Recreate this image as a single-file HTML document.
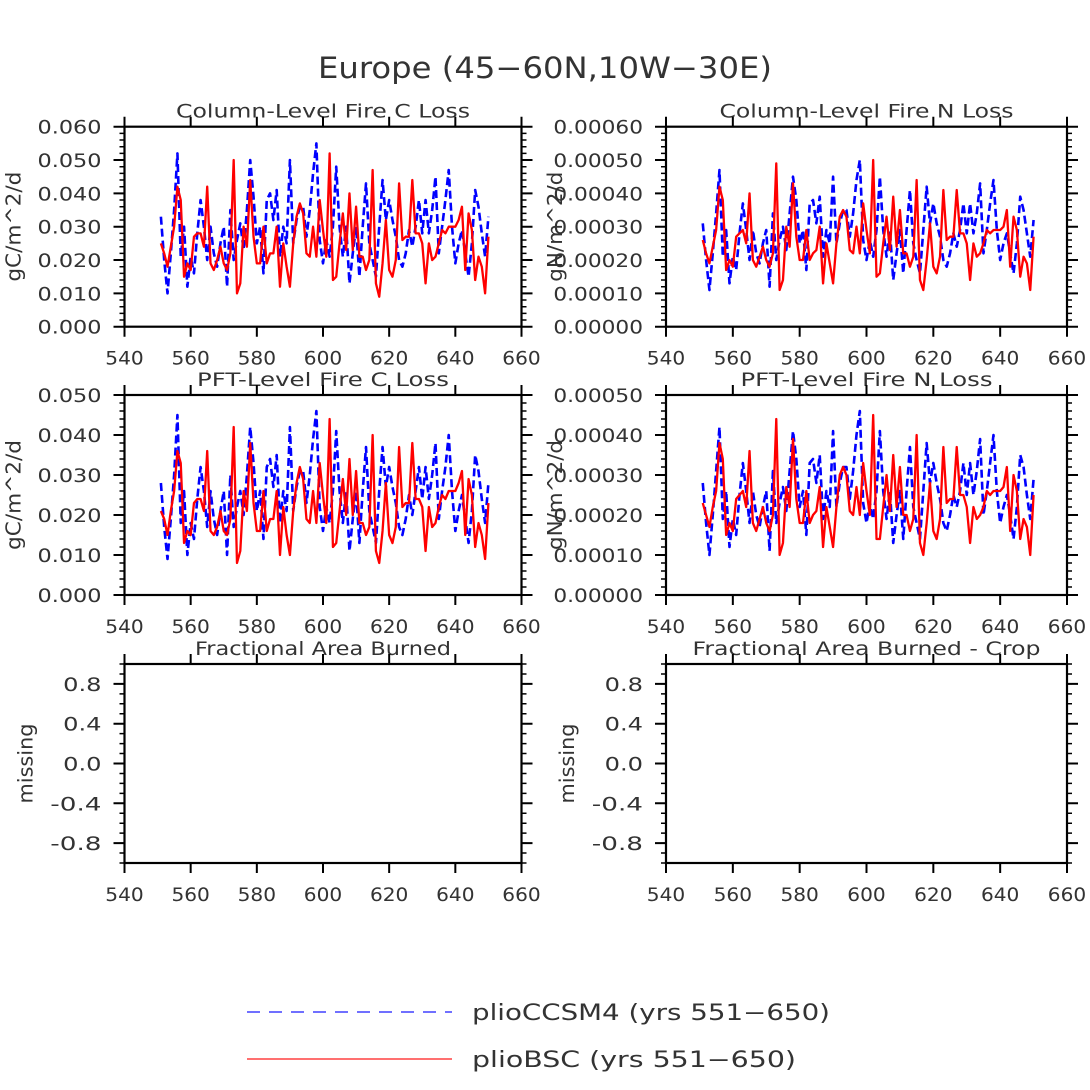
<!DOCTYPE html>
<html><head><meta charset="utf-8">
<style>
html,body{margin:0;padding:0;background:#fff;}
svg{display:block;font-family:"DejaVu Sans","Liberation Sans",sans-serif;}
</style></head>
<body>
<svg id="fig" width="1090" height="1090" viewBox="0 0 1090 1090" xmlns="http://www.w3.org/2000/svg">
<rect width="1090" height="1090" fill="#fff"/>
<text x="545" y="78" font-size="29" text-anchor="middle" textLength="454" lengthAdjust="spacingAndGlyphs" fill="#333">Europe (45−60N,10W−30E)</text>
<g id="panels"></g>
<g>
  <line x1="247" y1="1012" x2="452" y2="1012" stroke="#7070ff" stroke-width="2" stroke-dasharray="13,9"/>
  <text x="472" y="1020" font-size="22" textLength="358" lengthAdjust="spacingAndGlyphs" fill="#333">plioCCSM4 (yrs 551−650)</text>
  <line x1="247" y1="1059" x2="452" y2="1059" stroke="#ff7070" stroke-width="2"/>
  <text x="472" y="1067" font-size="22" textLength="324" lengthAdjust="spacingAndGlyphs" fill="#333">plioBSC (yrs 551−650)</text>
</g>
</svg>
<script>
// ---- data (years 551..650) ----
const firstYear = 551;
const xTicks = [540, 560, 580, 600, 620, 640, 660];
// Column-level fire C loss (x1e-3 gC/m^2/d)
const colC_red = [25,22,18,24,30,42,38,15,19,17, 27,28,28,24,42,19,17,20,24,19, 17,22,50,10,13,30,24,44,27,19, 19,30,19,22,22,30,12,25,18,12, 25,33,37,34,22,21,30,21,38,29, 21,52,14,15,25,34,23,40,23,36, 21,21,17,20,47,13,9,19,32,17, 15,20,43,26,27,27,44,28,28,25, 13,25,20,21,25,29,28,30,30,30, 32,36,17,34,29,14,21,18,10,27];
const colC_blue = [33,20,10,22,35,52,21,30,12,21, 16,28,38,30,20,30,22,18,25,30, 12,35,20,26,31,23,35,50,39,25, 30,16,38,40,32,41,21,30,25,50, 25,32,36,36,27,35,46,55,26,19, 26,21,30,48,30,21,30,13,22,30, 15,30,43,25,20,15,30,44,32,38, 32,27,20,18,22,29,24,30,38,28, 38,28,35,45,22,30,38,47,30,19, 25,29,22,15,25,41,36,28,21,33];
// Column-level fire N loss (x1e-5 gN/m^2/d)
const colN_red = [26,22,19,24,29,42,38,17,20,18, 27,28,29,25,40,20,18,21,24,20, 18,22,49,11,14,30,24,43,27,20, 20,29,20,22,23,30,13,25,19,13, 25,33,35,33,23,22,30,22,37,29, 22,50,15,16,25,33,23,39,24,35, 22,22,18,21,44,14,11,20,31,18, 16,21,41,26,27,27,41,28,28,25, 14,25,21,22,25,29,28,29,29,29, 30,35,18,33,29,15,21,19,11,27];
const colN_blue = [31,20,11,22,34,47,21,29,13,21, 17,28,37,29,20,29,22,19,25,29, 12,34,20,26,30,23,34,45,38,25, 29,17,37,38,31,39,21,29,25,45, 25,31,35,35,27,34,44,50,26,20, 26,21,29,45,29,21,29,14,22,29, 16,29,41,25,20,16,29,42,31,37, 31,27,20,18,22,28,24,29,37,28, 37,28,34,43,22,29,37,44,29,20, 25,28,22,16,25,39,35,28,21,32];
// PFT-level fire C loss (x1e-3)
const pftC_red = [21,19,15,21,26,36,33,13,16,15, 23,24,24,21,36,16,15,17,21,16, 15,19,42,8,11,26,21,38,23,16, 16,26,16,19,19,26,10,22,15,10, 21,28,32,29,19,18,26,18,33,25, 18,44,12,13,21,29,20,34,20,31, 18,18,15,17,40,11,8,16,28,15, 13,17,37,22,23,23,38,24,24,22, 11,22,17,18,22,25,24,26,26,26, 28,31,15,29,25,12,18,15,9,23];
const pftC_blue = [28,17,9,19,30,45,18,26,10,18, 14,24,32,26,17,26,19,15,21,26, 10,30,17,22,26,20,30,42,33,21, 26,14,32,34,27,35,18,26,21,42, 21,27,31,31,23,30,39,46,22,16, 22,18,26,41,26,18,26,11,19,26, 13,26,37,21,17,13,26,37,27,32, 27,23,17,15,19,25,20,26,32,24, 32,24,30,38,19,26,32,40,26,16, 21,25,19,13,21,35,31,24,18,28];
// PFT-level fire N loss (x1e-5)
const pftN_red = [23,20,17,22,26,38,34,15,18,16, 24,25,26,22,36,18,16,19,22,18, 16,20,44,10,13,27,22,39,24,18, 18,26,18,20,21,27,12,22,17,12, 22,30,32,30,21,20,27,20,33,26, 20,45,14,14,22,30,21,35,22,32, 20,20,16,19,40,13,10,18,28,16, 14,19,37,23,24,24,37,25,25,22, 13,22,19,20,22,26,25,26,26,26, 27,32,16,30,26,14,19,17,10,25];
const pftN_blue = [28,18,10,20,31,42,19,26,12,19, 15,25,33,26,18,26,20,17,22,26, 11,31,18,23,27,21,31,41,34,22, 26,15,33,34,28,35,19,26,22,41, 22,28,32,32,24,31,40,46,23,18, 23,19,26,41,26,19,26,13,20,26, 14,26,37,22,18,14,26,38,28,33, 28,24,18,16,20,25,22,26,33,25, 33,25,31,39,20,26,33,40,26,18, 22,25,20,14,22,35,32,25,19,29];
const yTicksC1 = ["0.000","0.010","0.020","0.030","0.040","0.050","0.060"];
const yTicksN1 = ["0.00000","0.00010","0.00020","0.00030","0.00040","0.00050","0.00060"];
const yTicksC2 = ["0.000","0.010","0.020","0.030","0.040","0.050"];
const yTicksN2 = ["0.00000","0.00010","0.00020","0.00030","0.00040","0.00050"];
const yTicksM = ["-0.8","-0.4","0.0","0.4","0.8"];

const NS = "http://www.w3.org/2000/svg";
const root = document.getElementById('panels');
function mk(tag, attrs, parent){
  const e = document.createElementNS(NS, tag);
  for (const k in attrs) e.setAttribute(k, attrs[k]);
  (parent||root).appendChild(e);
  return e;
}
const cols = [{l:124.5, r:521.5}, {l:666, r:1067}];
const rows = [{t:126.7, b:326.7}, {t:395, b:595}, {t:664, b:863}];
const CH = 12.8;

function panel(opts){
  const g = mk('g', {});
  
  
  const c = cols[opts.col], rw = rows[opts.row];
  const xs = v => c.l + (v - 540) / 120 * (c.r - c.l);
  const ys = v => rw.b - (v - opts.ymin) / (opts.ymax - opts.ymin) * (rw.b - rw.t);
  const t = mk('text', {x:(c.l+c.r)/2, y:rw.t-9, 'font-size':19, 'text-anchor':'middle', fill:'#333', textLength:opts.titleLen, lengthAdjust:'spacingAndGlyphs'}, g);
  t.textContent = opts.title;
  
  
  const yl = mk('text', {x:0, y:0, 'font-size':20, 'text-anchor':'middle', fill:'#333', textLength:opts.ylabelLen, lengthAdjust:'spacingAndGlyphs', transform:`translate(${c.l-(opts.row==2?92:104)},${(rw.t+rw.b)/2}) rotate(-90)`}, g);
  yl.textContent = opts.ylabel;
  
  
  xTicks.forEach(v => {
    const x = xs(v);
    const tk = mk('path', {d:`M${x},${rw.b}v10M${x},${rw.t}v-10`, stroke:'#000', 'stroke-width':2}, g);
    
    
    const s = String(v);
    const lb = mk('text', {x:x, y:rw.b+38, 'font-size':19, 'text-anchor':'middle', fill:'#333', textLength:s.length*CH, lengthAdjust:'spacingAndGlyphs'}, g);
    lb.textContent = s;
    
    
  });
  for (let v = opts.ymin; v <= opts.ymax + 1e-12; v += opts.minor) {
    const y = ys(v);
    const mt = mk('path', {d:`M${c.l},${y}h-5M${c.r},${y}h5`, stroke:'#000', 'stroke-width':1.5}, g);
    
    
  }
  opts.ticks.forEach(s => {
    const v = parseFloat(s), y = ys(v);
    const tk = mk('path', {d:`M${c.l},${y}h-11M${c.r},${y}h11`, stroke:'#000', 'stroke-width':2}, g);
    
    
    const lb = mk('text', {x:c.l-23, y:y+7, 'font-size':19, 'text-anchor':'end', fill:'#333', textLength:s.length*CH, lengthAdjust:'spacingAndGlyphs'}, g);
    lb.textContent = s;
    
    
  });
  if (opts.blue) {
    const pts = opts.blue.map((v,i) => `${xs(firstYear+i).toFixed(2)},${ys(v*opts.unit).toFixed(2)}`).join(' ');
    const pl = mk('polyline', {points:pts, fill:'none', stroke:'#0000ff', 'stroke-width':2.6, 'stroke-dasharray':'8,4', 'stroke-linejoin':'round'}, g);
    
    
  }
  if (opts.red) {
    const pts = opts.red.map((v,i) => `${xs(firstYear+i).toFixed(2)},${ys(v*opts.unit).toFixed(2)}`).join(' ');
    const pl = mk('polyline', {points:pts, fill:'none', stroke:'#ff0000', 'stroke-width':2.3, 'stroke-linejoin':'round'}, g);
    
    
  }
  const fr = mk('rect', {x:c.l, y:rw.t, width:c.r-c.l, height:rw.b-rw.t, fill:'none', stroke:'#000', 'stroke-width':2.2}, g);
  
  
}

panel({name:'panel-column-fire-c-loss', col:0, row:0, title:'Column-Level Fire C Loss', titleLen:294, ylabel:'gC/m^2/d', ylabelLen:110, ymin:0, ymax:0.06, minor:0.002, ticks:yTicksC1, unit:1e-3, red:colC_red, blue:colC_blue});
panel({name:'panel-column-fire-n-loss', col:1, row:0, title:'Column-Level Fire N Loss', titleLen:294, ylabel:'gN/m^2/d', ylabelLen:110, ymin:0, ymax:0.0006, minor:0.00002, ticks:yTicksN1, unit:1e-5, red:colN_red, blue:colN_blue});
panel({name:'panel-pft-fire-c-loss', col:0, row:1, title:'PFT-Level Fire C Loss', titleLen:252, ylabel:'gC/m^2/d', ylabelLen:110, ymin:0, ymax:0.05, minor:0.002, ticks:yTicksC2, unit:1e-3, red:pftC_red, blue:pftC_blue});
panel({name:'panel-pft-fire-n-loss', col:1, row:1, title:'PFT-Level Fire N Loss', titleLen:252, ylabel:'gN/m^2/d', ylabelLen:110, ymin:0, ymax:0.0005, minor:0.00002, ticks:yTicksN2, unit:1e-5, red:pftN_red, blue:pftN_blue});
panel({name:'panel-fractional-area-burned', col:0, row:2, title:'Fractional Area Burned', titleLen:256, ylabel:'missing', ylabelLen:80, ymin:-1, ymax:1, minor:0.1, ticks:yTicksM, unit:1});
panel({name:'panel-fractional-area-burned-crop', col:1, row:2, title:'Fractional Area Burned - Crop', titleLen:348, ylabel:'missing', ylabelLen:80, ymin:-1, ymax:1, minor:0.1, ticks:yTicksM, unit:1});
</script>
</body></html>
